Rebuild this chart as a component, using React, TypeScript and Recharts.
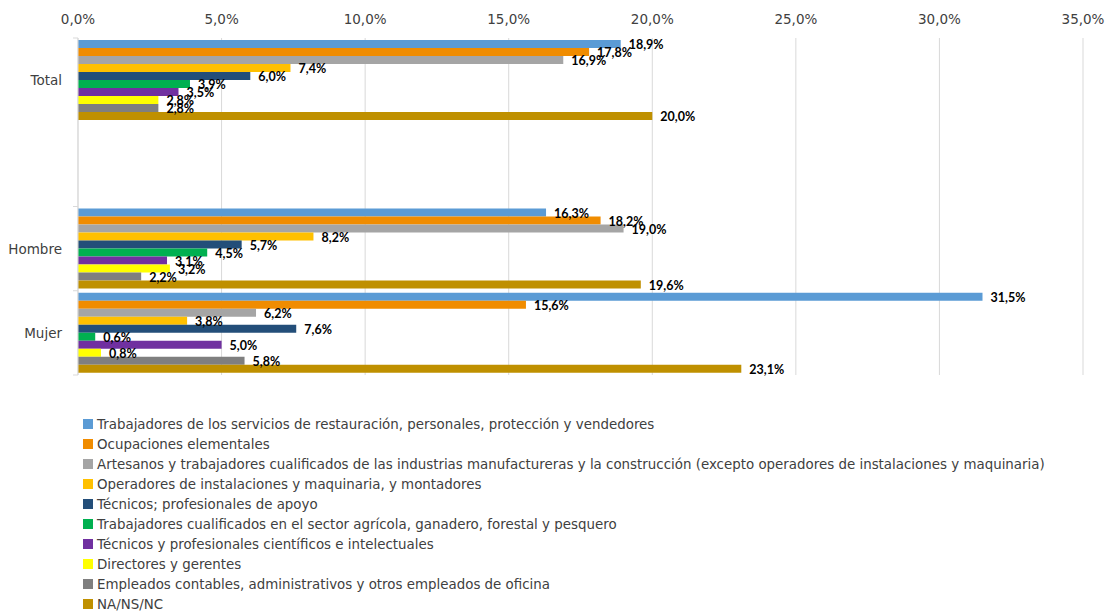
import { BarChart, Bar, XAxis, YAxis, CartesianGrid, Legend, LabelList } from 'recharts';

const categories = ['Total', '', 'Hombre', 'Mujer'];

const seriesNames = [
  'Trabajadores de los servicios de restauración, personales, protección y vendedores',
  'Ocupaciones elementales',
  'Artesanos y trabajadores cualificados de las industrias manufactureras y la construcción (excepto operadores de instalaciones y maquinaria)',
  'Operadores de instalaciones y maquinaria, y montadores',
  'Técnicos; profesionales de apoyo',
  'Trabajadores cualificados en el sector agrícola, ganadero, forestal y pesquero',
  'Técnicos y profesionales científicos e intelectuales',
  'Directores y gerentes',
  'Empleados contables, administrativos y otros empleados de oficina',
  'NA/NS/NC',
];

const seriesColors = [
  '#5B9BD5', '#F08C00', '#A5A5A5', '#FFC000', '#234E79',
  '#00B050', '#7030A0', '#FFFF00', '#7F7F7F', '#BF9000',
];

const totalValues = [18.9, 17.8, 16.9, 7.4, 6.0, 3.9, 3.5, 2.8, 2.8, 20.0];
const hombreValues = [16.3, 18.2, 19.0, 8.2, 5.7, 4.5, 3.1, 3.2, 2.2, 19.6];
const mujerValues = [31.5, 15.6, 6.2, 3.8, 7.6, 0.6, 5.0, 0.8, 5.8, 23.1];

const xTicks = [0, 5, 10, 15, 20, 25, 30, 35];

const valuesByCategory: (number[] | null)[] = [totalValues, null, hombreValues, mujerValues];

const data = categories.map((name, ci) => {
  const row: Record<string, any> = { name };
  seriesNames.forEach((_, si) => {
    const vals = valuesByCategory[ci];
    row['s' + si] = vals ? vals[si] : null;
  });
  return row;
});

const fmt = (v: any) => (v == null ? '' : `${Number(v).toFixed(1).replace('.', ',')}%`);

const FONT = "'DejaVu Sans', sans-serif";
const W = 1109;
const H = 611;
const PLOT_TOP = 38;
const LEGEND_H = 236;
const PLOT_BOTTOM = H - LEGEND_H;
const BAND = (PLOT_BOTTOM - PLOT_TOP) / categories.length;

// category labels plus Excel-style tick marks on the band edges
const YTick = (props: any) => {
  const { y, payload, index } = props;
  const ax = 78;
  const top = y - BAND / 2;
  const bottom = y + BAND / 2;
  return (
    <g>
      {payload.value !== '' && (
        <line x1={ax - 5} x2={ax} y1={top} y2={top} stroke="#D9D9D9" />
      )}
      {index === categories.length - 1 && (
        <line x1={ax - 5} x2={ax} y1={bottom} y2={bottom} stroke="#D9D9D9" />
      )}
      <text x={ax - 16} y={y} dy={5} textAnchor="end" fill="#404040" fontSize={13.5} fontFamily={FONT}>
        {payload.value}
      </text>
    </g>
  );
};

const LegendContent = () => (
  <div style={{ height: LEGEND_H, paddingTop: 39, paddingLeft: 83, boxSizing: 'border-box', overflow: 'visible' }}>
    {seriesNames.map((n, i) => (
      <div key={n} style={{ display: 'flex', alignItems: 'center', height: 20, whiteSpace: 'nowrap' }}>
        <span style={{ width: 10, height: 10, background: seriesColors[i], display: 'inline-block', marginRight: 4 }} />
        <span style={{ fontSize: 13.4, color: '#404040', fontFamily: FONT }}>{n}</span>
      </div>
    ))}
  </div>
);

export default function App() {
  return (
    <div style={{ position: 'absolute', left: 0, top: 0, background: '#fff' }}>
      <BarChart
        width={W}
        height={H}
        data={data}
        layout="vertical"
        margin={{ top: 8, right: 26, left: 0, bottom: 0 }}
        barCategoryGap={2}
        barGap={0}
      >
        <CartesianGrid horizontal={false} stroke="#D9D9D9" />
        <XAxis
          type="number"
          orientation="top"
          domain={[0, 35]}
          ticks={xTicks}
          tickFormatter={fmt}
          axisLine={false}
          tickLine={false}
          tickMargin={8}
          height={30}
          tick={{ fill: '#404040', fontSize: 13.5, fontFamily: FONT }}
        />
        <YAxis
          type="category"
          dataKey="name"
          width={78}
          axisLine={{ stroke: '#D9D9D9' }}
          tickLine={false}
          tick={<YTick />}
          interval={0}
        />
        <Legend verticalAlign="bottom" align="left" content={<LegendContent />} />
        {seriesNames.map((n, i) => (
          <Bar key={n} dataKey={'s' + i} name={n} fill={seriesColors[i]} isAnimationActive={false}>
            <LabelList
              dataKey={'s' + i}
              position="right"
              offset={8}
              formatter={fmt}
              fill="#000"
              fontSize={12.5}
              fontWeight="bold"
              fontFamily="Lato, sans-serif"
              dy={1}
            />
          </Bar>
        ))}
      </BarChart>
    </div>
  );
}
